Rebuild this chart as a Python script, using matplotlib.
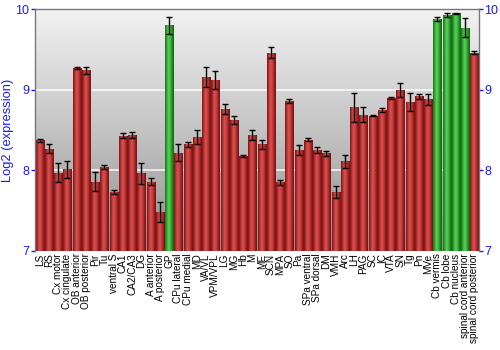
import numpy as np
import matplotlib
matplotlib.use("Agg")
import matplotlib.pyplot as plt
from matplotlib.colors import LinearSegmentedColormap

plt.rcParams['font.family'] = ['Liberation Sans', 'DejaVu Sans']

labels = ["LS", "RS", "Cx motor", "Cx cingulate", "OB anterior", "OB posterior", "Pir", "Tu",
          "ventral S", "CA1", "CA2/CA3", "DG", "A anterior", "A posterior", "GP", "CPu lateral",
          "CPu medial", "MD", "VA/VL", "VPM/VPL", "LG", "MG", "Hb", "M", "ME", "SCN", "MPA", "SO",
          "Pa", "SPa ventral", "SPa dorsal", "DM", "VMH", "Arc", "LH", "PAG", "SC", "IC", "VTA",
          "SN", "Tg", "Pn", "MVe", "Cb vermis", "Cb lobe", "Cb nucleus", "spinal cord anterior",
          "spinal cord posterior"]
values = [8.37, 8.27, 7.97, 8.01, 9.27, 9.24, 7.86, 8.04,
          7.73, 8.43, 8.44, 7.96, 7.86, 7.48, 9.80, 8.22,
          8.32, 8.41, 9.16, 9.12, 8.76, 8.62, 8.18, 8.44, 8.32, 9.46, 7.85, 8.86,
          8.25, 8.38, 8.25, 8.21, 7.73, 8.11, 8.78, 8.69, 8.68, 8.75, 8.90,
          9.00, 8.85, 8.92, 8.88, 9.88, 9.93, 9.95, 9.77, 9.46]
errors = [0.02, 0.05, 0.12, 0.11, 0.01, 0.04, 0.12, 0.02,
          0.03, 0.03, 0.04, 0.13, 0.04, 0.12, 0.11, 0.10,
          0.03, 0.09, 0.12, 0.11, 0.06, 0.05, 0.01, 0.06, 0.05, 0.07, 0.03, 0.02,
          0.06, 0.02, 0.04, 0.03, 0.08, 0.08, 0.18, 0.09, 0.01, 0.02, 0.01,
          0.09, 0.11, 0.03, 0.07, 0.02, 0.02, 0.01, 0.12, 0.02]
highlight = ["GP", "Cb vermis", "Cb lobe", "Cb nucleus", "spinal cord anterior"]

fig = plt.figure(figsize=(5, 3.5), dpi=100)
ax = fig.add_axes([0.07, 0.2837, 0.888, 0.6897])

ymin, ymax = 7, 10
x = np.arange(len(labels))
ax.set_xlim(-0.5, len(labels) - 0.5)
ax.set_ylim(ymin, ymax)

# background gradient
bg = np.linspace(0, 1, 256).reshape(-1, 1)
bg_cmap = LinearSegmentedColormap.from_list("bg", ["#8e8e8e", "#c4c4c4", "#f2f2f2"])
ax.imshow(bg, extent=[0, 1, 0, 1], transform=ax.transAxes, cmap=bg_cmap,
          aspect='auto', origin='lower', zorder=0, interpolation='bilinear')

for gy in [8, 9]:
    ax.axhline(gy, color='white', lw=1.2, alpha=0.85, zorder=1)

red_cmap = LinearSegmentedColormap.from_list("r", ["#7a1616", "#b83030", "#d85454", "#c94040", "#a02222", "#6e1212"])
green_cmap = LinearSegmentedColormap.from_list("g", ["#1a6e1a", "#34a834", "#5cd05c", "#42b842", "#238a23", "#145c14"])
grad = np.linspace(0, 1, 64).reshape(1, -1)

width = 0.88
bars = ax.bar(x, np.array(values) - ymin, bottom=ymin, width=width, color='none',
              edgecolor='none', zorder=2)
for b, lab in zip(bars, labels):
    cm = green_cmap if lab in highlight else red_cmap
    x0 = b.get_x()
    im = ax.imshow(grad, extent=[x0, x0 + b.get_width(), ymin, ymin + b.get_height()],
                   cmap=cm, aspect='auto', zorder=2, interpolation='bilinear')
    im.set_clip_path(b)

ax.errorbar(x, values, yerr=errors, fmt='none', ecolor='black', elinewidth=1,
            capsize=2, capthick=1, zorder=3)

ax.set_xticks(x)
ax.set_xticklabels(labels, rotation=90, fontsize=7.2)
ax.tick_params(axis='x', length=0, pad=2)

ax.set_yticks([7, 8, 9, 10])
ax.tick_params(axis='y', colors='#1a1aff', labelsize=9, length=3, width=1,
               left=True, right=True, labelleft=True, labelright=True, pad=1)
for t in ax.get_yticklines():
    t.set_color('#666666')
ax.set_ylabel("Log2 (expression)", color='#1a1aff', fontsize=9.3, labelpad=1)

for s in ['top', 'left', 'right']:
    ax.spines[s].set_color('#777777')
    ax.spines[s].set_linewidth(1)
ax.spines['bottom'].set_visible(False)

fig.savefig("out.png", dpi=100)
